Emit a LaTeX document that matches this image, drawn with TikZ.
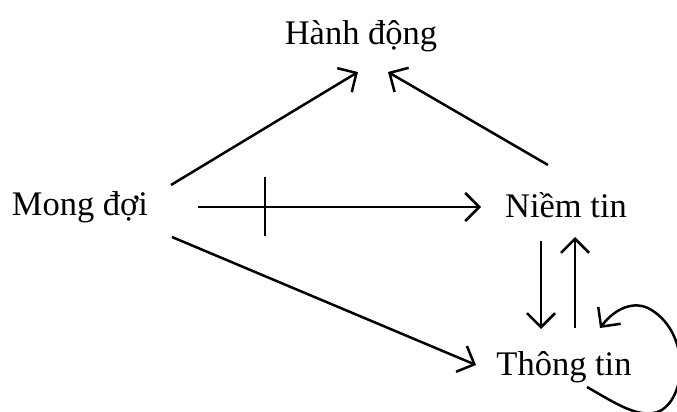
\documentclass[tikz,border=0pt]{standalone}
\usepackage{fontspec}
\setmainfont{Liberation Serif}
\usetikzlibrary{arrows.meta}
\begin{document}
\begin{tikzpicture}[x=1pt,y=-1pt,
  lbl/.style={font=\fontsize{34.5}{40}\selectfont, anchor=base, inner sep=0pt},
  arr/.style={line width=2.5pt, -{Straight Barb[length=14pt,width=28pt,line width=2.5pt]}},
  ln/.style={line width=2.5pt}]
\useasboundingbox (0,0) rectangle (677,412);
\node[lbl] (hd) at (361,45) {Hành động};
\node[lbl] (md) at (80,215) {Mong đợi};
\node[lbl] (nt) at (566,217) {Niềm tin};
\node[lbl] (tt) at (564,375) {Thông tin};
% connector end points
\coordinate (a1) at (171,185); \coordinate (a2) at (358,72);
\coordinate (b1) at (548,165); \coordinate (b2) at (388,72);
\coordinate (c1) at (198,207); \coordinate (c2) at (481,207);
\coordinate (t1) at (265,177); \coordinate (t2) at (265,236);
\coordinate (d1) at (172,237); \coordinate (d2) at (476,365);
\coordinate (e1) at (541,241); \coordinate (e2) at (541,329);
\coordinate (f1) at (575,328); \coordinate (f2) at (575,237);
\coordinate (g1) at (587,387); \coordinate (g2) at (600,328);
\draw[arr] (a1) -- (a2);
\draw[arr] (b1) -- (b2);
\draw[arr] (c1) -- (c2);
\draw[ln] (t1) -- (t2);
\draw[arr] (d1) -- (d2);
\draw[arr] (e1) -- (e2);
\draw[arr] (f1) -- (f2);
\draw[arr] (g1) .. controls (615,403) and (640,420) .. (660,411)
  .. controls (688,396) and (690,330) .. (648,308)
  .. controls (630,300) and (612,312) .. (g2);
\end{tikzpicture}
\end{document}
